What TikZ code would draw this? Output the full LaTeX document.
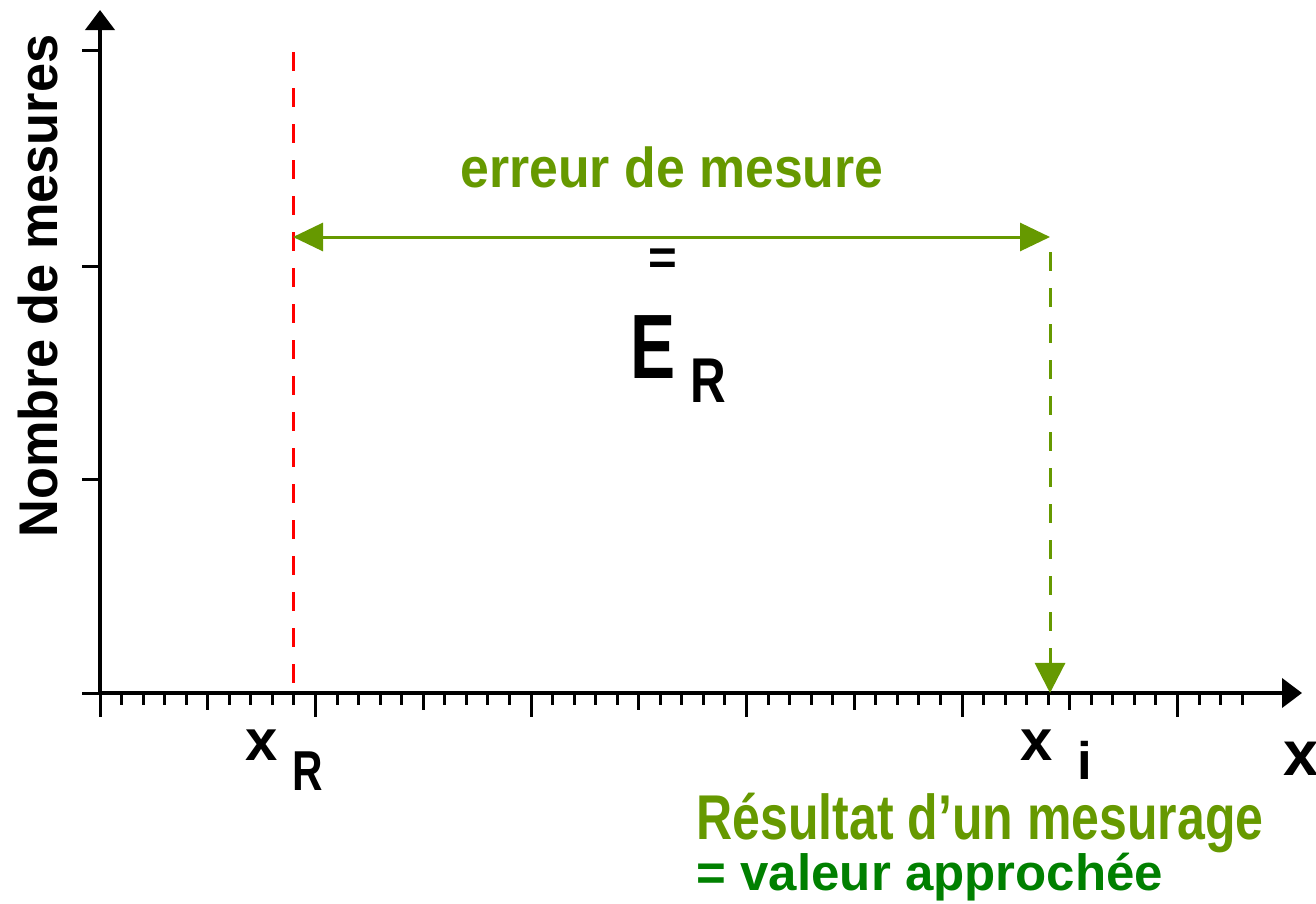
\documentclass[tikz,border=0pt]{standalone}
\usepackage{fontspec}
\setmainfont{Liberation Sans}
\usetikzlibrary{arrows.meta}

\definecolor{olive}{RGB}{102,153,0}
\definecolor{leaf}{RGB}{0,128,0}

\begin{document}
\begin{tikzpicture}[
    x=0.01cm, y=-0.01cm,
    axis/.style={line width=0.04cm, -{Triangle[length=0.2cm,width=0.29cm]}},
    tick/.style={line width=0.03cm},
    mesure/.style={line width=0.03cm, olive},
    hatch/.style={line width=0.03cm, dash pattern=on 0.19cm off 0.17cm},
    txt/.style={inner sep=0pt, font=\bfseries}
]
\useasboundingbox (0,0) rectangle (1316,903);

% axes
\coordinate (O) at (100,693);
\coordinate (xend) at (1302,693);
\coordinate (yend) at (100,10);
\draw[axis] (O) -- (xend);
\draw[axis] (O) -- (yend);
\foreach \y in {50,266,479,693}
  \draw[tick] (100,\y) -- ++(-18,0);
\foreach \k in {0,...,53}{
  \pgfmathsetmacro\len{mod(\k,10)==0 ? 24 : (mod(\k,5)==0 ? 17 : 12)}
  \draw[tick] (100+21.55*\k,693) -- ++(0,\len);
}

% valeur vraie et mesure
\coordinate (xRtop) at (293,52);
\coordinate (xRaxis) at (293,693);
\coordinate (errL) at (293,237);
\coordinate (errR) at (1050,237);
\coordinate (xitop) at (1050,252);
\coordinate (xiaxis) at (1050,693);
\draw[hatch, red] (xRtop) -- (xRaxis);
\draw[mesure, {Triangle[length=0.3cm,width=0.28cm]}-{Triangle[length=0.3cm,width=0.28cm]}] (errL) -- (errR);
\draw[mesure, hatch, -{Triangle[length=0.3cm,width=0.3cm]}] (xitop) -- (xiaxis);

% textes
\node[txt, olive, anchor=base, font=\bfseries\fontsize{16pt}{18pt}\selectfont] (err) at (672,187) {\scalebox{.92}[1]{erreur de mesure}};
\node[txt, font=\bfseries\fontsize{14pt}{16pt}\selectfont] (eq) at (663,262) {=};
\node[txt, anchor=base west, font=\bfseries\fontsize{26pt}{30pt}\selectfont] (E) at (630,378) {\scalebox{.74}[1]{E}};
\node[txt, anchor=base west, font=\bfseries\fontsize{18pt}{20pt}\selectfont] (Esub) at (690,402) {\scalebox{.78}[1]{R}};

\node[txt, anchor=base west, font=\bfseries\fontsize{16.5pt}{18pt}\selectfont] (xR) at (245,760) {x};
\node[txt, anchor=base west, font=\bfseries\fontsize{16pt}{18pt}\selectfont] (xRsub) at (292,790) {\scalebox{.75}[1]{R}};
\node[txt, anchor=base west, font=\bfseries\fontsize{16.5pt}{18pt}\selectfont] (xi) at (1020,760) {x};
\node[txt, anchor=base west, font=\bfseries\fontsize{15pt}{18pt}\selectfont] (xisub) at (1077,779) {i};
\node[txt, anchor=base west, font=\bfseries\fontsize{18pt}{20pt}\selectfont] (xlab) at (1283,775) {x};

\node[txt, olive, anchor=base west, text height=12pt, font=\bfseries\fontsize{18pt}{20pt}\selectfont] (res) at (696,839) {\scalebox{.79}[1]{Résultat d'un mesurage}};
\node[txt, leaf, anchor=base west, font=\bfseries\fontsize{14.5pt}{16pt}\selectfont] (approx) at (696,890) {= valeur approchée};

\node[txt, rotate=90, font=\bfseries\fontsize{15.5pt}{18pt}\selectfont] (ylab) at (38,286) {\scalebox{.96}[1]{Nombre de mesures}};
\end{tikzpicture}
\end{document}
